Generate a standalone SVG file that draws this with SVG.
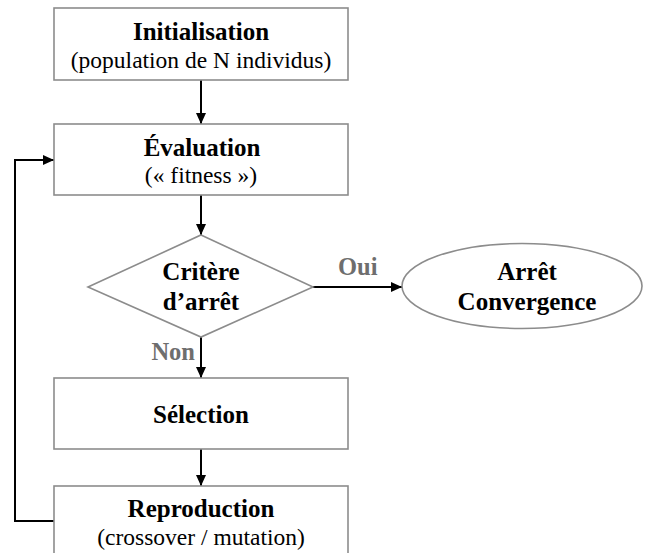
<svg xmlns="http://www.w3.org/2000/svg" width="645" height="553" viewBox="0 0 645 553">
<defs>
<marker id="ah" markerUnits="userSpaceOnUse" markerWidth="12" markerHeight="10" refX="11" refY="5" orient="auto">
<path d="M0,0 L11,5 L0,10 z" fill="#000"/>
</marker>
<style>
.box{fill:#fff;stroke:#8c8c8c;stroke-width:1.6}
text{font-family:'Liberation Serif','DejaVu Serif','Times New Roman',serif}
.t{font-weight:bold;font-size:25px;fill:#000;text-anchor:middle}
.s{font-size:23.5px;fill:#000;text-anchor:middle}
.lbl{font-weight:bold;font-size:24.5px;fill:#6e6e6e}
.c{fill:none;stroke:#000;stroke-width:2}
</style>
</defs>
<rect width="645" height="553" fill="#fff"/>
<g id="connectors">
<line class="c" x1="201" y1="80" x2="201" y2="124" marker-end="url(#ah)"/>
<line class="c" x1="201" y1="195" x2="201" y2="235" marker-end="url(#ah)"/>
<line class="c" x1="313" y1="287" x2="402" y2="287" marker-end="url(#ah)"/>
<line class="c" x1="201" y1="337" x2="201" y2="378" marker-end="url(#ah)"/>
<line class="c" x1="201" y1="449" x2="201" y2="486" marker-end="url(#ah)"/>
<polyline class="c" points="54,521 15,521 15,160 54,160" marker-end="url(#ah)"/>
<text class="lbl" x="338" y="275">Oui</text>
<text class="lbl" x="195" y="360" text-anchor="end">Non</text>
</g>
<g id="init">
<rect class="box" x="54" y="8" width="294" height="72"/>
<text class="t" x="201" y="40">Initialisation</text>
<text class="s" x="201" y="68">(population de N individus)</text>
</g>
<g id="eval">
<rect class="box" x="54" y="124" width="294" height="71"/>
<text class="t" x="202" y="156">Évaluation</text>
<text class="s" x="201" y="183">(« fitness »)</text>
</g>
<g id="critere">
<polygon class="box" points="201,235 313,287 201,337 88,287"/>
<text class="t" x="201" y="280">Critère</text>
<text class="t" x="201" y="310">d’arrêt</text>
</g>
<g id="arret">
<ellipse class="box" cx="522" cy="286" rx="120" ry="42.5"/>
<text class="t" x="527" y="280">Arrêt</text>
<text class="t" x="527" y="310">Convergence</text>
</g>
<g id="selection">
<rect class="box" x="54" y="378" width="294" height="71"/>
<text class="t" x="201" y="423">Sélection</text>
</g>
<g id="reproduction">
<rect class="box" x="54" y="486" width="294" height="72"/>
<text class="t" x="201" y="517">Reproduction</text>
<text class="s" x="201" y="545">(crossover / mutation)</text>
</g>
</svg>
